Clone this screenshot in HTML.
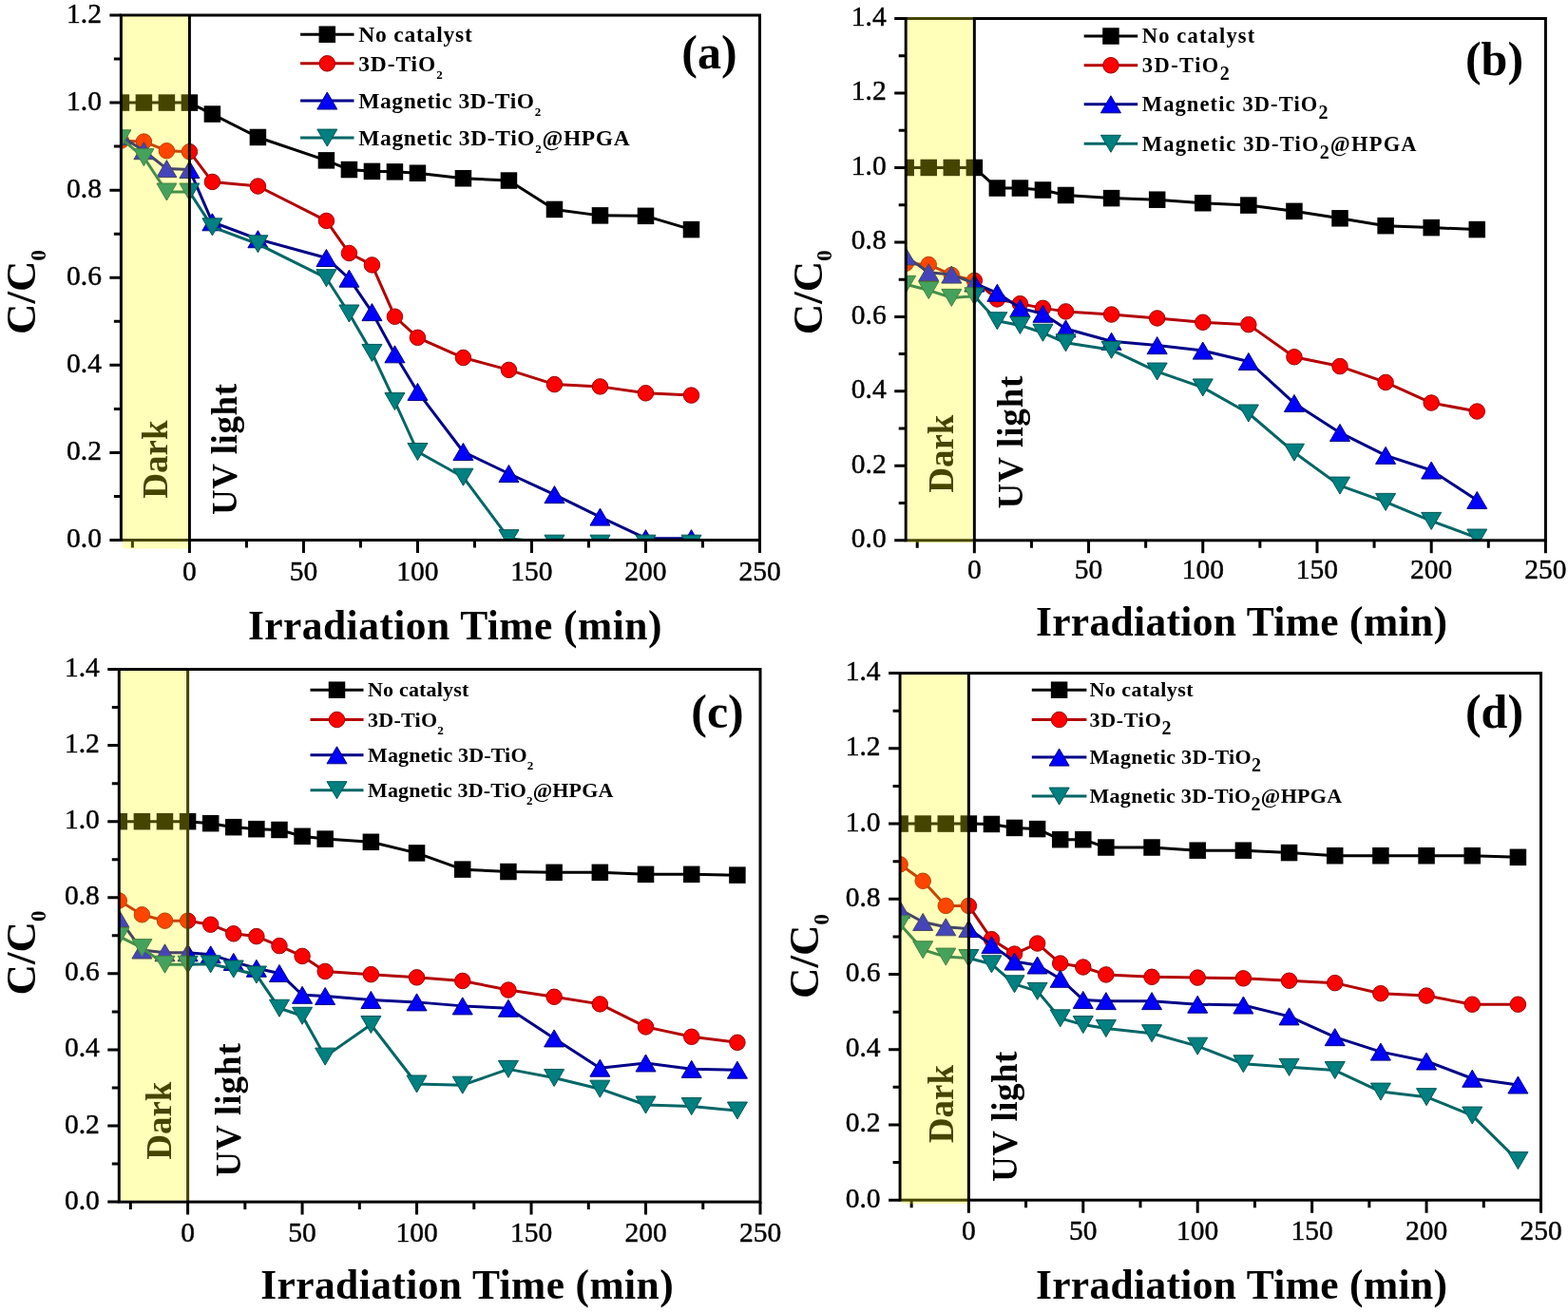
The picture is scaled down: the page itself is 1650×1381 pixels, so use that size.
<!DOCTYPE html>
<html><head><meta charset="utf-8"><title>Photocatalytic degradation C/C0 vs irradiation time</title>
<style>
html,body{margin:0;padding:0;background:#fff;}
svg{display:block;}
text{font-family:"Liberation Serif","Times New Roman",serif;}
.tl{font-size:29.5px;fill:#000;stroke:#000;stroke-width:0.45px;}
.xt{font-size:43.5px;font-weight:bold;fill:#000;}
.yt{font-size:45px;font-weight:bold;fill:#000;}
.ys{font-size:23px;}
.pl{font-size:50px;font-weight:bold;fill:#000;}
.lg{font-weight:bold;fill:#000;}
.dk{font-size:37px;font-weight:bold;fill:#000;}
.uv{font-size:37px;font-weight:bold;fill:#000;}
</style></head>
<body>
<svg width="1650" height="1381" viewBox="0 0 1650 1381">
<rect width="1650" height="1381" fill="#fff"/>
<clipPath id="clip_a"><rect x="127.4" y="16" width="672.1" height="552.5"/></clipPath>
<g clip-path="url(#clip_a)">
<polyline points="127.4,108.08 151.4,108.08 175.41,108.08 199.41,108.08 223.41,120.05 271.42,144.46 343.43,168.86 367.44,178.53 391.44,180.37 415.44,180.83 439.45,182.21 487.45,187.74 535.46,190.04 583.47,220.43 631.48,226.87 679.48,227.33 727.49,241.6" fill="none" stroke="#000000" stroke-width="3.0" stroke-linejoin="round"/>
<rect x="118.65" y="99.33" width="17.5" height="17.5" fill="#000000"/>
<rect x="142.65" y="99.33" width="17.5" height="17.5" fill="#000000"/>
<rect x="166.66" y="99.33" width="17.5" height="17.5" fill="#000000"/>
<rect x="190.66" y="99.33" width="17.5" height="17.5" fill="#000000"/>
<rect x="214.66" y="111.3" width="17.5" height="17.5" fill="#000000"/>
<rect x="262.67" y="135.71" width="17.5" height="17.5" fill="#000000"/>
<rect x="334.68" y="160.11" width="17.5" height="17.5" fill="#000000"/>
<rect x="358.69" y="169.78" width="17.5" height="17.5" fill="#000000"/>
<rect x="382.69" y="171.62" width="17.5" height="17.5" fill="#000000"/>
<rect x="406.69" y="172.08" width="17.5" height="17.5" fill="#000000"/>
<rect x="430.7" y="173.46" width="17.5" height="17.5" fill="#000000"/>
<rect x="478.7" y="178.99" width="17.5" height="17.5" fill="#000000"/>
<rect x="526.71" y="181.29" width="17.5" height="17.5" fill="#000000"/>
<rect x="574.72" y="211.68" width="17.5" height="17.5" fill="#000000"/>
<rect x="622.73" y="218.12" width="17.5" height="17.5" fill="#000000"/>
<rect x="670.73" y="218.58" width="17.5" height="17.5" fill="#000000"/>
<rect x="718.74" y="232.85" width="17.5" height="17.5" fill="#000000"/>
<polyline points="127.4,148.14 151.4,149.06 175.41,158.73 199.41,159.65 223.41,191.42 271.42,196.02 343.43,232.4 367.44,266.47 391.44,278.9 415.44,333.23 439.45,355.33 487.45,376.51 535.46,389.4 583.47,404.59 631.48,406.89 679.48,413.8 727.49,416.1" fill="none" stroke="#b40000" stroke-width="3.0" stroke-linejoin="round"/>
<circle cx="127.4" cy="148.14" r="8.25" fill="#ff0000" stroke="#9a0000" stroke-width="1"/>
<circle cx="151.4" cy="149.06" r="8.25" fill="#ff0000" stroke="#9a0000" stroke-width="1"/>
<circle cx="175.41" cy="158.73" r="8.25" fill="#ff0000" stroke="#9a0000" stroke-width="1"/>
<circle cx="199.41" cy="159.65" r="8.25" fill="#ff0000" stroke="#9a0000" stroke-width="1"/>
<circle cx="223.41" cy="191.42" r="8.25" fill="#ff0000" stroke="#9a0000" stroke-width="1"/>
<circle cx="271.42" cy="196.02" r="8.25" fill="#ff0000" stroke="#9a0000" stroke-width="1"/>
<circle cx="343.43" cy="232.4" r="8.25" fill="#ff0000" stroke="#9a0000" stroke-width="1"/>
<circle cx="367.44" cy="266.47" r="8.25" fill="#ff0000" stroke="#9a0000" stroke-width="1"/>
<circle cx="391.44" cy="278.9" r="8.25" fill="#ff0000" stroke="#9a0000" stroke-width="1"/>
<circle cx="415.44" cy="333.23" r="8.25" fill="#ff0000" stroke="#9a0000" stroke-width="1"/>
<circle cx="439.45" cy="355.33" r="8.25" fill="#ff0000" stroke="#9a0000" stroke-width="1"/>
<circle cx="487.45" cy="376.51" r="8.25" fill="#ff0000" stroke="#9a0000" stroke-width="1"/>
<circle cx="535.46" cy="389.4" r="8.25" fill="#ff0000" stroke="#9a0000" stroke-width="1"/>
<circle cx="583.47" cy="404.59" r="8.25" fill="#ff0000" stroke="#9a0000" stroke-width="1"/>
<circle cx="631.48" cy="406.89" r="8.25" fill="#ff0000" stroke="#9a0000" stroke-width="1"/>
<circle cx="679.48" cy="413.8" r="8.25" fill="#ff0000" stroke="#9a0000" stroke-width="1"/>
<circle cx="727.49" cy="416.1" r="8.25" fill="#ff0000" stroke="#9a0000" stroke-width="1"/>
<polyline points="127.4,143.54 151.4,158.73 175.41,177.61 199.41,178.53 223.41,233.78 271.42,251.73 343.43,271.53 367.44,293.17 391.44,328.62 415.44,372.82 439.45,412.42 487.45,475.5 535.46,498.52 583.47,520.62 631.48,544.1 679.48,566.66 727.49,566.66" fill="none" stroke="#000088" stroke-width="3.0" stroke-linejoin="round"/>
<polygon points="127.4,134.54 116.9,152.54 137.9,152.54" fill="#0000ff" stroke="#000080" stroke-width="1" stroke-linejoin="miter"/>
<polygon points="151.4,149.73 140.9,167.73 161.9,167.73" fill="#0000ff" stroke="#000080" stroke-width="1" stroke-linejoin="miter"/>
<polygon points="175.41,168.61 164.91,186.61 185.91,186.61" fill="#0000ff" stroke="#000080" stroke-width="1" stroke-linejoin="miter"/>
<polygon points="199.41,169.53 188.91,187.53 209.91,187.53" fill="#0000ff" stroke="#000080" stroke-width="1" stroke-linejoin="miter"/>
<polygon points="223.41,224.78 212.91,242.78 233.91,242.78" fill="#0000ff" stroke="#000080" stroke-width="1" stroke-linejoin="miter"/>
<polygon points="271.42,242.73 260.92,260.73 281.92,260.73" fill="#0000ff" stroke="#000080" stroke-width="1" stroke-linejoin="miter"/>
<polygon points="343.43,262.53 332.93,280.53 353.93,280.53" fill="#0000ff" stroke="#000080" stroke-width="1" stroke-linejoin="miter"/>
<polygon points="367.44,284.17 356.94,302.17 377.94,302.17" fill="#0000ff" stroke="#000080" stroke-width="1" stroke-linejoin="miter"/>
<polygon points="391.44,319.62 380.94,337.62 401.94,337.62" fill="#0000ff" stroke="#000080" stroke-width="1" stroke-linejoin="miter"/>
<polygon points="415.44,363.82 404.94,381.82 425.94,381.82" fill="#0000ff" stroke="#000080" stroke-width="1" stroke-linejoin="miter"/>
<polygon points="439.45,403.42 428.95,421.42 449.95,421.42" fill="#0000ff" stroke="#000080" stroke-width="1" stroke-linejoin="miter"/>
<polygon points="487.45,466.5 476.95,484.5 497.95,484.5" fill="#0000ff" stroke="#000080" stroke-width="1" stroke-linejoin="miter"/>
<polygon points="535.46,489.52 524.96,507.52 545.96,507.52" fill="#0000ff" stroke="#000080" stroke-width="1" stroke-linejoin="miter"/>
<polygon points="583.47,511.62 572.97,529.62 593.97,529.62" fill="#0000ff" stroke="#000080" stroke-width="1" stroke-linejoin="miter"/>
<polygon points="631.48,535.1 620.98,553.1 641.98,553.1" fill="#0000ff" stroke="#000080" stroke-width="1" stroke-linejoin="miter"/>
<polygon points="679.48,557.66 668.98,575.66 689.98,575.66" fill="#0000ff" stroke="#000080" stroke-width="1" stroke-linejoin="miter"/>
<polygon points="727.49,557.66 716.99,575.66 737.99,575.66" fill="#0000ff" stroke="#000080" stroke-width="1" stroke-linejoin="miter"/>
<polyline points="127.4,145.84 151.4,165.64 175.41,202.01 199.41,202.01 223.41,238.84 271.42,256.8 343.43,292.71 367.44,330 391.44,371.44 415.44,422.55 439.45,475.5 487.45,502.2 535.46,566.66 583.47,572.18 631.48,572.18 679.48,572.18 727.49,572.18" fill="none" stroke="#006666" stroke-width="3.0" stroke-linejoin="round"/>
<polygon points="127.4,154.84 116.9,136.84 137.9,136.84" fill="#008080" stroke="#005555" stroke-width="1" stroke-linejoin="miter"/>
<polygon points="151.4,174.64 140.9,156.64 161.9,156.64" fill="#008080" stroke="#005555" stroke-width="1" stroke-linejoin="miter"/>
<polygon points="175.41,211.01 164.91,193.01 185.91,193.01" fill="#008080" stroke="#005555" stroke-width="1" stroke-linejoin="miter"/>
<polygon points="199.41,211.01 188.91,193.01 209.91,193.01" fill="#008080" stroke="#005555" stroke-width="1" stroke-linejoin="miter"/>
<polygon points="223.41,247.84 212.91,229.84 233.91,229.84" fill="#008080" stroke="#005555" stroke-width="1" stroke-linejoin="miter"/>
<polygon points="271.42,265.8 260.92,247.8 281.92,247.8" fill="#008080" stroke="#005555" stroke-width="1" stroke-linejoin="miter"/>
<polygon points="343.43,301.71 332.93,283.71 353.93,283.71" fill="#008080" stroke="#005555" stroke-width="1" stroke-linejoin="miter"/>
<polygon points="367.44,339 356.94,321 377.94,321" fill="#008080" stroke="#005555" stroke-width="1" stroke-linejoin="miter"/>
<polygon points="391.44,380.44 380.94,362.44 401.94,362.44" fill="#008080" stroke="#005555" stroke-width="1" stroke-linejoin="miter"/>
<polygon points="415.44,431.55 404.94,413.55 425.94,413.55" fill="#008080" stroke="#005555" stroke-width="1" stroke-linejoin="miter"/>
<polygon points="439.45,484.5 428.95,466.5 449.95,466.5" fill="#008080" stroke="#005555" stroke-width="1" stroke-linejoin="miter"/>
<polygon points="487.45,511.2 476.95,493.2 497.95,493.2" fill="#008080" stroke="#005555" stroke-width="1" stroke-linejoin="miter"/>
<polygon points="535.46,575.66 524.96,557.66 545.96,557.66" fill="#008080" stroke="#005555" stroke-width="1" stroke-linejoin="miter"/>
<polygon points="583.47,581.18 572.97,563.18 593.97,563.18" fill="#008080" stroke="#005555" stroke-width="1" stroke-linejoin="miter"/>
<polygon points="631.48,581.18 620.98,563.18 641.98,563.18" fill="#008080" stroke="#005555" stroke-width="1" stroke-linejoin="miter"/>
<polygon points="679.48,581.18 668.98,563.18 689.98,563.18" fill="#008080" stroke="#005555" stroke-width="1" stroke-linejoin="miter"/>
<polygon points="727.49,581.18 716.99,563.18 737.99,563.18" fill="#008080" stroke="#005555" stroke-width="1" stroke-linejoin="miter"/>
</g>
<text transform="translate(176.3,524.7) rotate(-90)" class="dk">Dark</text>
<line x1="199.41" y1="16" x2="199.41" y2="568.5" stroke="#000" stroke-width="3.0"/>
<rect x="127.4" y="16" width="672.1" height="552.5" fill="none" stroke="#000" stroke-width="3.0"/>
<path d="M115.4 568.5H127.4M119.9 522.46H127.4M115.4 476.42H127.4M119.9 430.38H127.4M115.4 384.33H127.4M119.9 338.29H127.4M115.4 292.25H127.4M119.9 246.21H127.4M115.4 200.17H127.4M119.9 154.12H127.4M115.4 108.08H127.4M119.9 62.04H127.4M115.4 16H127.4M139.4 568.5V576.5M199.41 568.5V582M259.42 568.5V576.5M319.43 568.5V582M379.44 568.5V576.5M439.45 568.5V582M499.46 568.5V576.5M559.46 568.5V582M619.47 568.5V576.5M679.48 568.5V582M739.49 568.5V576.5M799.5 568.5V582" stroke="#000" stroke-width="3.0" fill="none"/>
<text x="106.9" y="576" class="tl" text-anchor="end">0.0</text>
<text x="106.9" y="483.92" class="tl" text-anchor="end">0.2</text>
<text x="106.9" y="391.83" class="tl" text-anchor="end">0.4</text>
<text x="106.9" y="299.75" class="tl" text-anchor="end">0.6</text>
<text x="106.9" y="207.67" class="tl" text-anchor="end">0.8</text>
<text x="106.9" y="115.58" class="tl" text-anchor="end">1.0</text>
<text x="106.9" y="23.5" class="tl" text-anchor="end">1.2</text>
<text x="199.41" y="610.7" class="tl" text-anchor="middle">0</text>
<text x="319.43" y="610.7" class="tl" text-anchor="middle">50</text>
<text x="439.45" y="610.7" class="tl" text-anchor="middle">100</text>
<text x="559.46" y="610.7" class="tl" text-anchor="middle">150</text>
<text x="679.48" y="610.7" class="tl" text-anchor="middle">200</text>
<text x="799.5" y="610.7" class="tl" text-anchor="middle">250</text>
<rect x="128.9" y="17.5" width="69.01" height="560" fill="#ffff00" fill-opacity="0.27"/>
<text transform="translate(248.6,542) rotate(-90)" class="uv" textLength="138" lengthAdjust="spacing">UV light</text>
<text x="260.9" y="672.6" class="xt" textLength="435.5" lengthAdjust="spacing">Irradiation Time (min)</text>
<text transform="translate(37.4,352) rotate(-90)" class="yt">C/C<tspan class="ys" dy="10.5">0</tspan></text>
<text x="746.4" y="71.5" class="pl" text-anchor="middle">(a)</text>
<line x1="316.1" y1="36.2" x2="372.5" y2="36.2" stroke="#000000" stroke-width="3.0"/>
<rect x="335.55" y="27.45" width="17.5" height="17.5" fill="#000000"/>
<text x="377.2" y="43.96" class="lg" font-size="23.5" textLength="119.6" lengthAdjust="spacing">No catalyst</text>
<line x1="316.1" y1="66.8" x2="372.5" y2="66.8" stroke="#b40000" stroke-width="3.0"/>
<circle cx="344.3" cy="66.8" r="8.25" fill="#ff0000" stroke="#9a0000" stroke-width="1"/>
<text x="377.2" y="74.55" class="lg" font-size="23.5" textLength="88.5" lengthAdjust="spacing">3D-TiO<tspan dy="8" font-size="13">2</tspan></text>
<line x1="316.1" y1="106" x2="372.5" y2="106" stroke="#000088" stroke-width="3.0"/>
<polygon points="344.3,97 333.8,115 354.8,115" fill="#0000ff" stroke="#000080" stroke-width="1" stroke-linejoin="miter"/>
<text x="377.2" y="113.75" class="lg" font-size="23.5" textLength="192" lengthAdjust="spacing">Magnetic 3D-TiO<tspan dy="8" font-size="13">2</tspan></text>
<line x1="316.1" y1="145.1" x2="372.5" y2="145.1" stroke="#006666" stroke-width="3.0"/>
<polygon points="344.3,154.1 333.8,136.1 354.8,136.1" fill="#008080" stroke="#005555" stroke-width="1" stroke-linejoin="miter"/>
<text x="377.2" y="152.85" class="lg" font-size="23.5" textLength="285.5" lengthAdjust="spacing">Magnetic 3D-TiO<tspan dy="8" font-size="13">2</tspan><tspan dy="-8">@HPGA</tspan></text>
<clipPath id="clip_b"><rect x="953.2" y="19.5" width="673.2" height="549.3"/></clipPath>
<g clip-path="url(#clip_b)">
<polyline points="953.2,176.44 977.24,176.44 1001.29,176.44 1025.33,176.44 1049.37,198.02 1073.41,198.02 1097.46,199.98 1121.5,205.48 1169.59,208.62 1217.67,210.19 1265.76,213.72 1313.84,216.07 1361.93,222.35 1410.01,229.8 1458.1,237.65 1506.19,239.61 1554.27,241.57" fill="none" stroke="#000000" stroke-width="3.0" stroke-linejoin="round"/>
<rect x="944.45" y="167.69" width="17.5" height="17.5" fill="#000000"/>
<rect x="968.49" y="167.69" width="17.5" height="17.5" fill="#000000"/>
<rect x="992.54" y="167.69" width="17.5" height="17.5" fill="#000000"/>
<rect x="1016.58" y="167.69" width="17.5" height="17.5" fill="#000000"/>
<rect x="1040.62" y="189.27" width="17.5" height="17.5" fill="#000000"/>
<rect x="1064.66" y="189.27" width="17.5" height="17.5" fill="#000000"/>
<rect x="1088.71" y="191.23" width="17.5" height="17.5" fill="#000000"/>
<rect x="1112.75" y="196.73" width="17.5" height="17.5" fill="#000000"/>
<rect x="1160.84" y="199.87" width="17.5" height="17.5" fill="#000000"/>
<rect x="1208.92" y="201.44" width="17.5" height="17.5" fill="#000000"/>
<rect x="1257.01" y="204.97" width="17.5" height="17.5" fill="#000000"/>
<rect x="1305.09" y="207.32" width="17.5" height="17.5" fill="#000000"/>
<rect x="1353.18" y="213.6" width="17.5" height="17.5" fill="#000000"/>
<rect x="1401.26" y="221.05" width="17.5" height="17.5" fill="#000000"/>
<rect x="1449.35" y="228.9" width="17.5" height="17.5" fill="#000000"/>
<rect x="1497.44" y="230.86" width="17.5" height="17.5" fill="#000000"/>
<rect x="1545.52" y="232.82" width="17.5" height="17.5" fill="#000000"/>
<polyline points="953.2,277.28 977.24,278.46 1001.29,289.44 1025.33,295.33 1049.37,314.94 1073.41,319.65 1097.46,324.36 1121.5,327.89 1169.59,331.03 1217.67,334.96 1265.76,339.27 1313.84,341.63 1361.93,375.76 1410.01,385.57 1458.1,402.44 1506.19,424.02 1554.27,433.04" fill="none" stroke="#b40000" stroke-width="3.0" stroke-linejoin="round"/>
<circle cx="953.2" cy="277.28" r="8.25" fill="#ff0000" stroke="#9a0000" stroke-width="1"/>
<circle cx="977.24" cy="278.46" r="8.25" fill="#ff0000" stroke="#9a0000" stroke-width="1"/>
<circle cx="1001.29" cy="289.44" r="8.25" fill="#ff0000" stroke="#9a0000" stroke-width="1"/>
<circle cx="1025.33" cy="295.33" r="8.25" fill="#ff0000" stroke="#9a0000" stroke-width="1"/>
<circle cx="1049.37" cy="314.94" r="8.25" fill="#ff0000" stroke="#9a0000" stroke-width="1"/>
<circle cx="1073.41" cy="319.65" r="8.25" fill="#ff0000" stroke="#9a0000" stroke-width="1"/>
<circle cx="1097.46" cy="324.36" r="8.25" fill="#ff0000" stroke="#9a0000" stroke-width="1"/>
<circle cx="1121.5" cy="327.89" r="8.25" fill="#ff0000" stroke="#9a0000" stroke-width="1"/>
<circle cx="1169.59" cy="331.03" r="8.25" fill="#ff0000" stroke="#9a0000" stroke-width="1"/>
<circle cx="1217.67" cy="334.96" r="8.25" fill="#ff0000" stroke="#9a0000" stroke-width="1"/>
<circle cx="1265.76" cy="339.27" r="8.25" fill="#ff0000" stroke="#9a0000" stroke-width="1"/>
<circle cx="1313.84" cy="341.63" r="8.25" fill="#ff0000" stroke="#9a0000" stroke-width="1"/>
<circle cx="1361.93" cy="375.76" r="8.25" fill="#ff0000" stroke="#9a0000" stroke-width="1"/>
<circle cx="1410.01" cy="385.57" r="8.25" fill="#ff0000" stroke="#9a0000" stroke-width="1"/>
<circle cx="1458.1" cy="402.44" r="8.25" fill="#ff0000" stroke="#9a0000" stroke-width="1"/>
<circle cx="1506.19" cy="424.02" r="8.25" fill="#ff0000" stroke="#9a0000" stroke-width="1"/>
<circle cx="1554.27" cy="433.04" r="8.25" fill="#ff0000" stroke="#9a0000" stroke-width="1"/>
<polyline points="953.2,269.82 977.24,286.7 1001.29,289.05 1025.33,298.07 1049.37,308.27 1073.41,324.36 1097.46,330.25 1121.5,345.94 1169.59,359.28 1217.67,363.6 1265.76,369.09 1313.84,380.47 1361.93,424.41 1410.01,455.41 1458.1,479.34 1506.19,495.04 1554.27,526.43" fill="none" stroke="#000088" stroke-width="3.0" stroke-linejoin="round"/>
<polygon points="953.2,260.82 942.7,278.82 963.7,278.82" fill="#0000ff" stroke="#000080" stroke-width="1" stroke-linejoin="miter"/>
<polygon points="977.24,277.7 966.74,295.7 987.74,295.7" fill="#0000ff" stroke="#000080" stroke-width="1" stroke-linejoin="miter"/>
<polygon points="1001.29,280.05 990.79,298.05 1011.79,298.05" fill="#0000ff" stroke="#000080" stroke-width="1" stroke-linejoin="miter"/>
<polygon points="1025.33,289.07 1014.83,307.07 1035.83,307.07" fill="#0000ff" stroke="#000080" stroke-width="1" stroke-linejoin="miter"/>
<polygon points="1049.37,299.27 1038.87,317.27 1059.87,317.27" fill="#0000ff" stroke="#000080" stroke-width="1" stroke-linejoin="miter"/>
<polygon points="1073.41,315.36 1062.91,333.36 1083.91,333.36" fill="#0000ff" stroke="#000080" stroke-width="1" stroke-linejoin="miter"/>
<polygon points="1097.46,321.25 1086.96,339.25 1107.96,339.25" fill="#0000ff" stroke="#000080" stroke-width="1" stroke-linejoin="miter"/>
<polygon points="1121.5,336.94 1111,354.94 1132,354.94" fill="#0000ff" stroke="#000080" stroke-width="1" stroke-linejoin="miter"/>
<polygon points="1169.59,350.28 1159.09,368.28 1180.09,368.28" fill="#0000ff" stroke="#000080" stroke-width="1" stroke-linejoin="miter"/>
<polygon points="1217.67,354.6 1207.17,372.6 1228.17,372.6" fill="#0000ff" stroke="#000080" stroke-width="1" stroke-linejoin="miter"/>
<polygon points="1265.76,360.09 1255.26,378.09 1276.26,378.09" fill="#0000ff" stroke="#000080" stroke-width="1" stroke-linejoin="miter"/>
<polygon points="1313.84,371.47 1303.34,389.47 1324.34,389.47" fill="#0000ff" stroke="#000080" stroke-width="1" stroke-linejoin="miter"/>
<polygon points="1361.93,415.41 1351.43,433.41 1372.43,433.41" fill="#0000ff" stroke="#000080" stroke-width="1" stroke-linejoin="miter"/>
<polygon points="1410.01,446.41 1399.51,464.41 1420.51,464.41" fill="#0000ff" stroke="#000080" stroke-width="1" stroke-linejoin="miter"/>
<polygon points="1458.1,470.34 1447.6,488.34 1468.6,488.34" fill="#0000ff" stroke="#000080" stroke-width="1" stroke-linejoin="miter"/>
<polygon points="1506.19,486.04 1495.69,504.04 1516.69,504.04" fill="#0000ff" stroke="#000080" stroke-width="1" stroke-linejoin="miter"/>
<polygon points="1554.27,517.43 1543.77,535.43 1564.77,535.43" fill="#0000ff" stroke="#000080" stroke-width="1" stroke-linejoin="miter"/>
<polyline points="953.2,299.25 977.24,305.53 1001.29,313.38 1025.33,311.81 1049.37,337.7 1073.41,342.41 1097.46,350.26 1121.5,360.85 1169.59,368.31 1217.67,391.06 1265.76,407.93 1313.84,435.01 1361.93,476.2 1410.01,511.12 1458.1,528.39 1506.19,548.4 1554.27,566.05" fill="none" stroke="#006666" stroke-width="3.0" stroke-linejoin="round"/>
<polygon points="953.2,308.25 942.7,290.25 963.7,290.25" fill="#008080" stroke="#005555" stroke-width="1" stroke-linejoin="miter"/>
<polygon points="977.24,314.53 966.74,296.53 987.74,296.53" fill="#008080" stroke="#005555" stroke-width="1" stroke-linejoin="miter"/>
<polygon points="1001.29,322.38 990.79,304.38 1011.79,304.38" fill="#008080" stroke="#005555" stroke-width="1" stroke-linejoin="miter"/>
<polygon points="1025.33,320.81 1014.83,302.81 1035.83,302.81" fill="#008080" stroke="#005555" stroke-width="1" stroke-linejoin="miter"/>
<polygon points="1049.37,346.7 1038.87,328.7 1059.87,328.7" fill="#008080" stroke="#005555" stroke-width="1" stroke-linejoin="miter"/>
<polygon points="1073.41,351.41 1062.91,333.41 1083.91,333.41" fill="#008080" stroke="#005555" stroke-width="1" stroke-linejoin="miter"/>
<polygon points="1097.46,359.26 1086.96,341.26 1107.96,341.26" fill="#008080" stroke="#005555" stroke-width="1" stroke-linejoin="miter"/>
<polygon points="1121.5,369.85 1111,351.85 1132,351.85" fill="#008080" stroke="#005555" stroke-width="1" stroke-linejoin="miter"/>
<polygon points="1169.59,377.31 1159.09,359.31 1180.09,359.31" fill="#008080" stroke="#005555" stroke-width="1" stroke-linejoin="miter"/>
<polygon points="1217.67,400.06 1207.17,382.06 1228.17,382.06" fill="#008080" stroke="#005555" stroke-width="1" stroke-linejoin="miter"/>
<polygon points="1265.76,416.93 1255.26,398.93 1276.26,398.93" fill="#008080" stroke="#005555" stroke-width="1" stroke-linejoin="miter"/>
<polygon points="1313.84,444.01 1303.34,426.01 1324.34,426.01" fill="#008080" stroke="#005555" stroke-width="1" stroke-linejoin="miter"/>
<polygon points="1361.93,485.2 1351.43,467.2 1372.43,467.2" fill="#008080" stroke="#005555" stroke-width="1" stroke-linejoin="miter"/>
<polygon points="1410.01,520.12 1399.51,502.12 1420.51,502.12" fill="#008080" stroke="#005555" stroke-width="1" stroke-linejoin="miter"/>
<polygon points="1458.1,537.39 1447.6,519.39 1468.6,519.39" fill="#008080" stroke="#005555" stroke-width="1" stroke-linejoin="miter"/>
<polygon points="1506.19,557.4 1495.69,539.4 1516.69,539.4" fill="#008080" stroke="#005555" stroke-width="1" stroke-linejoin="miter"/>
<polygon points="1554.27,575.05 1543.77,557.05 1564.77,557.05" fill="#008080" stroke="#005555" stroke-width="1" stroke-linejoin="miter"/>
</g>
<text transform="translate(1002.6,518.8) rotate(-90)" class="dk">Dark</text>
<line x1="1025.33" y1="19.5" x2="1025.33" y2="568.8" stroke="#000" stroke-width="3.0"/>
<rect x="953.2" y="19.5" width="673.2" height="549.3" fill="none" stroke="#000" stroke-width="3.0"/>
<path d="M941.2 568.8H953.2M945.7 529.56H953.2M941.2 490.33H953.2M945.7 451.09H953.2M941.2 411.86H953.2M945.7 372.62H953.2M941.2 333.39H953.2M945.7 294.15H953.2M941.2 254.91H953.2M945.7 215.68H953.2M941.2 176.44H953.2M945.7 137.21H953.2M941.2 97.97H953.2M945.7 58.74H953.2M941.2 19.5H953.2M965.22 568.8V576.8M1025.33 568.8V582.3M1085.44 568.8V576.8M1145.54 568.8V582.3M1205.65 568.8V576.8M1265.76 568.8V582.3M1325.86 568.8V576.8M1385.97 568.8V582.3M1446.08 568.8V576.8M1506.19 568.8V582.3M1566.29 568.8V576.8M1626.4 568.8V582.3" stroke="#000" stroke-width="3.0" fill="none"/>
<text x="932.7" y="576.3" class="tl" text-anchor="end">0.0</text>
<text x="932.7" y="497.83" class="tl" text-anchor="end">0.2</text>
<text x="932.7" y="419.36" class="tl" text-anchor="end">0.4</text>
<text x="932.7" y="340.89" class="tl" text-anchor="end">0.6</text>
<text x="932.7" y="262.41" class="tl" text-anchor="end">0.8</text>
<text x="932.7" y="183.94" class="tl" text-anchor="end">1.0</text>
<text x="932.7" y="105.47" class="tl" text-anchor="end">1.2</text>
<text x="932.7" y="27" class="tl" text-anchor="end">1.4</text>
<text x="1025.33" y="608.8" class="tl" text-anchor="middle">0</text>
<text x="1145.54" y="608.8" class="tl" text-anchor="middle">50</text>
<text x="1265.76" y="608.8" class="tl" text-anchor="middle">100</text>
<text x="1385.97" y="608.8" class="tl" text-anchor="middle">150</text>
<text x="1506.19" y="608.8" class="tl" text-anchor="middle">200</text>
<text x="1626.4" y="608.8" class="tl" text-anchor="middle">250</text>
<rect x="954.7" y="18" width="69.13" height="553.3" fill="#ffff00" fill-opacity="0.27"/>
<text transform="translate(1075.6,535.4) rotate(-90)" class="uv" textLength="139.8" lengthAdjust="spacing">UV light</text>
<text x="1089.9" y="669.2" class="xt" textLength="433" lengthAdjust="spacing">Irradiation Time (min)</text>
<text transform="translate(864.6,352.2) rotate(-90)" class="yt">C/C<tspan class="ys" dy="10.5">0</tspan></text>
<text x="1572.5" y="79" class="pl" text-anchor="middle">(b)</text>
<line x1="1140.7" y1="38" x2="1197.2" y2="38" stroke="#000000" stroke-width="3.0"/>
<rect x="1160.2" y="29.25" width="17.5" height="17.5" fill="#000000"/>
<text x="1201.8" y="45.42" class="lg" font-size="22.5" textLength="118.4" lengthAdjust="spacing">No catalyst</text>
<line x1="1140.7" y1="68.8" x2="1197.2" y2="68.8" stroke="#b40000" stroke-width="3.0"/>
<circle cx="1168.95" cy="68.8" r="8.25" fill="#ff0000" stroke="#9a0000" stroke-width="1"/>
<text x="1201.8" y="76.22" class="lg" font-size="22.5" textLength="92" lengthAdjust="spacing">3D-TiO<tspan dy="8" font-size="20">2</tspan></text>
<line x1="1140.7" y1="109.8" x2="1197.2" y2="109.8" stroke="#000088" stroke-width="3.0"/>
<polygon points="1168.95,100.8 1158.45,118.8 1179.45,118.8" fill="#0000ff" stroke="#000080" stroke-width="1" stroke-linejoin="miter"/>
<text x="1201.8" y="117.22" class="lg" font-size="22.5" textLength="195.6" lengthAdjust="spacing">Magnetic 3D-TiO<tspan dy="8" font-size="20">2</tspan></text>
<line x1="1140.7" y1="151.3" x2="1197.2" y2="151.3" stroke="#006666" stroke-width="3.0"/>
<polygon points="1168.95,160.3 1158.45,142.3 1179.45,142.3" fill="#008080" stroke="#005555" stroke-width="1" stroke-linejoin="miter"/>
<text x="1201.8" y="158.73" class="lg" font-size="22.5" textLength="288.8" lengthAdjust="spacing">Magnetic 3D-TiO<tspan dy="8" font-size="20">2</tspan><tspan dy="-8">@HPGA</tspan></text>
<clipPath id="clip_c"><rect x="125.3" y="704.5" width="674.7" height="560.6"/></clipPath>
<g clip-path="url(#clip_c)">
<polyline points="125.3,864.67 149.4,864.67 173.49,864.67 197.59,864.67 221.69,866.67 245.78,870.68 269.88,872.68 293.98,873.48 318.07,880.29 342.17,883.09 390.36,886.29 438.55,897.91 486.75,915.13 534.94,917.53 583.13,918.33 631.33,918.33 679.52,920.33 727.71,920.33 775.9,921.13" fill="none" stroke="#000000" stroke-width="3.0" stroke-linejoin="round"/>
<rect x="116.55" y="855.92" width="17.5" height="17.5" fill="#000000"/>
<rect x="140.65" y="855.92" width="17.5" height="17.5" fill="#000000"/>
<rect x="164.74" y="855.92" width="17.5" height="17.5" fill="#000000"/>
<rect x="188.84" y="855.92" width="17.5" height="17.5" fill="#000000"/>
<rect x="212.94" y="857.92" width="17.5" height="17.5" fill="#000000"/>
<rect x="237.03" y="861.93" width="17.5" height="17.5" fill="#000000"/>
<rect x="261.13" y="863.93" width="17.5" height="17.5" fill="#000000"/>
<rect x="285.23" y="864.73" width="17.5" height="17.5" fill="#000000"/>
<rect x="309.32" y="871.54" width="17.5" height="17.5" fill="#000000"/>
<rect x="333.42" y="874.34" width="17.5" height="17.5" fill="#000000"/>
<rect x="381.61" y="877.54" width="17.5" height="17.5" fill="#000000"/>
<rect x="429.8" y="889.16" width="17.5" height="17.5" fill="#000000"/>
<rect x="478" y="906.38" width="17.5" height="17.5" fill="#000000"/>
<rect x="526.19" y="908.78" width="17.5" height="17.5" fill="#000000"/>
<rect x="574.38" y="909.58" width="17.5" height="17.5" fill="#000000"/>
<rect x="622.58" y="909.58" width="17.5" height="17.5" fill="#000000"/>
<rect x="670.77" y="911.58" width="17.5" height="17.5" fill="#000000"/>
<rect x="718.96" y="911.58" width="17.5" height="17.5" fill="#000000"/>
<rect x="767.15" y="912.38" width="17.5" height="17.5" fill="#000000"/>
<polyline points="125.3,947.96 149.4,962.78 173.49,969.18 197.59,969.18 221.69,973.19 245.78,982.8 269.88,985.6 293.98,995.61 318.07,1006.42 342.17,1022.44 390.36,1025.64 438.55,1028.85 486.75,1032.45 534.94,1042.06 583.13,1049.27 631.33,1056.88 679.52,1080.9 727.71,1091.31 775.9,1097.32" fill="none" stroke="#b40000" stroke-width="3.0" stroke-linejoin="round"/>
<circle cx="125.3" cy="947.96" r="8.25" fill="#ff0000" stroke="#9a0000" stroke-width="1"/>
<circle cx="149.4" cy="962.78" r="8.25" fill="#ff0000" stroke="#9a0000" stroke-width="1"/>
<circle cx="173.49" cy="969.18" r="8.25" fill="#ff0000" stroke="#9a0000" stroke-width="1"/>
<circle cx="197.59" cy="969.18" r="8.25" fill="#ff0000" stroke="#9a0000" stroke-width="1"/>
<circle cx="221.69" cy="973.19" r="8.25" fill="#ff0000" stroke="#9a0000" stroke-width="1"/>
<circle cx="245.78" cy="982.8" r="8.25" fill="#ff0000" stroke="#9a0000" stroke-width="1"/>
<circle cx="269.88" cy="985.6" r="8.25" fill="#ff0000" stroke="#9a0000" stroke-width="1"/>
<circle cx="293.98" cy="995.61" r="8.25" fill="#ff0000" stroke="#9a0000" stroke-width="1"/>
<circle cx="318.07" cy="1006.42" r="8.25" fill="#ff0000" stroke="#9a0000" stroke-width="1"/>
<circle cx="342.17" cy="1022.44" r="8.25" fill="#ff0000" stroke="#9a0000" stroke-width="1"/>
<circle cx="390.36" cy="1025.64" r="8.25" fill="#ff0000" stroke="#9a0000" stroke-width="1"/>
<circle cx="438.55" cy="1028.85" r="8.25" fill="#ff0000" stroke="#9a0000" stroke-width="1"/>
<circle cx="486.75" cy="1032.45" r="8.25" fill="#ff0000" stroke="#9a0000" stroke-width="1"/>
<circle cx="534.94" cy="1042.06" r="8.25" fill="#ff0000" stroke="#9a0000" stroke-width="1"/>
<circle cx="583.13" cy="1049.27" r="8.25" fill="#ff0000" stroke="#9a0000" stroke-width="1"/>
<circle cx="631.33" cy="1056.88" r="8.25" fill="#ff0000" stroke="#9a0000" stroke-width="1"/>
<circle cx="679.52" cy="1080.9" r="8.25" fill="#ff0000" stroke="#9a0000" stroke-width="1"/>
<circle cx="727.71" cy="1091.31" r="8.25" fill="#ff0000" stroke="#9a0000" stroke-width="1"/>
<circle cx="775.9" cy="1097.32" r="8.25" fill="#ff0000" stroke="#9a0000" stroke-width="1"/>
<polyline points="125.3,966.78 149.4,1000.02 173.49,1002.82 197.59,1002.82 221.69,1004.82 245.78,1012.43 269.88,1019.24 293.98,1024.44 318.07,1047.27 342.17,1048.47 390.36,1052.47 438.55,1054.88 486.75,1058.88 534.94,1061.28 583.13,1092.92 631.33,1124.15 679.52,1118.94 727.71,1125.35 775.9,1126.15" fill="none" stroke="#000088" stroke-width="3.0" stroke-linejoin="round"/>
<polygon points="125.3,957.78 114.8,975.78 135.8,975.78" fill="#0000ff" stroke="#000080" stroke-width="1" stroke-linejoin="miter"/>
<polygon points="149.4,991.02 138.9,1009.02 159.9,1009.02" fill="#0000ff" stroke="#000080" stroke-width="1" stroke-linejoin="miter"/>
<polygon points="173.49,993.82 162.99,1011.82 183.99,1011.82" fill="#0000ff" stroke="#000080" stroke-width="1" stroke-linejoin="miter"/>
<polygon points="197.59,993.82 187.09,1011.82 208.09,1011.82" fill="#0000ff" stroke="#000080" stroke-width="1" stroke-linejoin="miter"/>
<polygon points="221.69,995.82 211.19,1013.82 232.19,1013.82" fill="#0000ff" stroke="#000080" stroke-width="1" stroke-linejoin="miter"/>
<polygon points="245.78,1003.43 235.28,1021.43 256.28,1021.43" fill="#0000ff" stroke="#000080" stroke-width="1" stroke-linejoin="miter"/>
<polygon points="269.88,1010.24 259.38,1028.24 280.38,1028.24" fill="#0000ff" stroke="#000080" stroke-width="1" stroke-linejoin="miter"/>
<polygon points="293.98,1015.44 283.48,1033.44 304.48,1033.44" fill="#0000ff" stroke="#000080" stroke-width="1" stroke-linejoin="miter"/>
<polygon points="318.07,1038.27 307.57,1056.27 328.57,1056.27" fill="#0000ff" stroke="#000080" stroke-width="1" stroke-linejoin="miter"/>
<polygon points="342.17,1039.47 331.67,1057.47 352.67,1057.47" fill="#0000ff" stroke="#000080" stroke-width="1" stroke-linejoin="miter"/>
<polygon points="390.36,1043.47 379.86,1061.47 400.86,1061.47" fill="#0000ff" stroke="#000080" stroke-width="1" stroke-linejoin="miter"/>
<polygon points="438.55,1045.88 428.05,1063.88 449.05,1063.88" fill="#0000ff" stroke="#000080" stroke-width="1" stroke-linejoin="miter"/>
<polygon points="486.75,1049.88 476.25,1067.88 497.25,1067.88" fill="#0000ff" stroke="#000080" stroke-width="1" stroke-linejoin="miter"/>
<polygon points="534.94,1052.28 524.44,1070.28 545.44,1070.28" fill="#0000ff" stroke="#000080" stroke-width="1" stroke-linejoin="miter"/>
<polygon points="583.13,1083.92 572.63,1101.92 593.63,1101.92" fill="#0000ff" stroke="#000080" stroke-width="1" stroke-linejoin="miter"/>
<polygon points="631.33,1115.15 620.83,1133.15 641.83,1133.15" fill="#0000ff" stroke="#000080" stroke-width="1" stroke-linejoin="miter"/>
<polygon points="679.52,1109.94 669.02,1127.94 690.02,1127.94" fill="#0000ff" stroke="#000080" stroke-width="1" stroke-linejoin="miter"/>
<polygon points="727.71,1116.35 717.21,1134.35 738.21,1134.35" fill="#0000ff" stroke="#000080" stroke-width="1" stroke-linejoin="miter"/>
<polygon points="775.9,1117.15 765.4,1135.15 786.4,1135.15" fill="#0000ff" stroke="#000080" stroke-width="1" stroke-linejoin="miter"/>
<polyline points="125.3,985.6 149.4,997.61 173.49,1015.23 197.59,1015.23 221.69,1014.83 245.78,1020.04 269.88,1026.04 293.98,1061.28 318.07,1069.29 342.17,1112.14 390.36,1078.5 438.55,1140.97 486.75,1142.17 534.94,1125.35 583.13,1134.56 631.33,1146.17 679.52,1162.99 727.71,1164.59 775.9,1169" fill="none" stroke="#006666" stroke-width="3.0" stroke-linejoin="round"/>
<polygon points="125.3,994.6 114.8,976.6 135.8,976.6" fill="#008080" stroke="#005555" stroke-width="1" stroke-linejoin="miter"/>
<polygon points="149.4,1006.61 138.9,988.61 159.9,988.61" fill="#008080" stroke="#005555" stroke-width="1" stroke-linejoin="miter"/>
<polygon points="173.49,1024.23 162.99,1006.23 183.99,1006.23" fill="#008080" stroke="#005555" stroke-width="1" stroke-linejoin="miter"/>
<polygon points="197.59,1024.23 187.09,1006.23 208.09,1006.23" fill="#008080" stroke="#005555" stroke-width="1" stroke-linejoin="miter"/>
<polygon points="221.69,1023.83 211.19,1005.83 232.19,1005.83" fill="#008080" stroke="#005555" stroke-width="1" stroke-linejoin="miter"/>
<polygon points="245.78,1029.04 235.28,1011.04 256.28,1011.04" fill="#008080" stroke="#005555" stroke-width="1" stroke-linejoin="miter"/>
<polygon points="269.88,1035.04 259.38,1017.04 280.38,1017.04" fill="#008080" stroke="#005555" stroke-width="1" stroke-linejoin="miter"/>
<polygon points="293.98,1070.28 283.48,1052.28 304.48,1052.28" fill="#008080" stroke="#005555" stroke-width="1" stroke-linejoin="miter"/>
<polygon points="318.07,1078.29 307.57,1060.29 328.57,1060.29" fill="#008080" stroke="#005555" stroke-width="1" stroke-linejoin="miter"/>
<polygon points="342.17,1121.14 331.67,1103.14 352.67,1103.14" fill="#008080" stroke="#005555" stroke-width="1" stroke-linejoin="miter"/>
<polygon points="390.36,1087.5 379.86,1069.5 400.86,1069.5" fill="#008080" stroke="#005555" stroke-width="1" stroke-linejoin="miter"/>
<polygon points="438.55,1149.97 428.05,1131.97 449.05,1131.97" fill="#008080" stroke="#005555" stroke-width="1" stroke-linejoin="miter"/>
<polygon points="486.75,1151.17 476.25,1133.17 497.25,1133.17" fill="#008080" stroke="#005555" stroke-width="1" stroke-linejoin="miter"/>
<polygon points="534.94,1134.35 524.44,1116.35 545.44,1116.35" fill="#008080" stroke="#005555" stroke-width="1" stroke-linejoin="miter"/>
<polygon points="583.13,1143.56 572.63,1125.56 593.63,1125.56" fill="#008080" stroke="#005555" stroke-width="1" stroke-linejoin="miter"/>
<polygon points="631.33,1155.17 620.83,1137.17 641.83,1137.17" fill="#008080" stroke="#005555" stroke-width="1" stroke-linejoin="miter"/>
<polygon points="679.52,1171.99 669.02,1153.99 690.02,1153.99" fill="#008080" stroke="#005555" stroke-width="1" stroke-linejoin="miter"/>
<polygon points="727.71,1173.59 717.21,1155.59 738.21,1155.59" fill="#008080" stroke="#005555" stroke-width="1" stroke-linejoin="miter"/>
<polygon points="775.9,1178 765.4,1160 786.4,1160" fill="#008080" stroke="#005555" stroke-width="1" stroke-linejoin="miter"/>
</g>
<text transform="translate(180.4,1220.8) rotate(-90)" class="dk">Dark</text>
<line x1="197.59" y1="704.5" x2="197.59" y2="1265.1" stroke="#000" stroke-width="3.0"/>
<rect x="125.3" y="704.5" width="674.7" height="560.6" fill="none" stroke="#000" stroke-width="3.0"/>
<path d="M113.3 1265.1H125.3M117.8 1225.06H125.3M113.3 1185.01H125.3M117.8 1144.97H125.3M113.3 1104.93H125.3M117.8 1064.89H125.3M113.3 1024.84H125.3M117.8 984.8H125.3M113.3 944.76H125.3M117.8 904.71H125.3M113.3 864.67H125.3M117.8 824.63H125.3M113.3 784.59H125.3M117.8 744.54H125.3M113.3 704.5H125.3M137.35 1265.1V1273.1M197.59 1265.1V1278.6M257.83 1265.1V1273.1M318.07 1265.1V1278.6M378.31 1265.1V1273.1M438.55 1265.1V1278.6M498.79 1265.1V1273.1M559.04 1265.1V1278.6M619.28 1265.1V1273.1M679.52 1265.1V1278.6M739.76 1265.1V1273.1M800 1265.1V1278.6" stroke="#000" stroke-width="3.0" fill="none"/>
<text x="104.8" y="1272.6" class="tl" text-anchor="end">0.0</text>
<text x="104.8" y="1192.51" class="tl" text-anchor="end">0.2</text>
<text x="104.8" y="1112.43" class="tl" text-anchor="end">0.4</text>
<text x="104.8" y="1032.34" class="tl" text-anchor="end">0.6</text>
<text x="104.8" y="952.26" class="tl" text-anchor="end">0.8</text>
<text x="104.8" y="872.17" class="tl" text-anchor="end">1.0</text>
<text x="104.8" y="792.09" class="tl" text-anchor="end">1.2</text>
<text x="104.8" y="712" class="tl" text-anchor="end">1.4</text>
<text x="197.59" y="1307.3" class="tl" text-anchor="middle">0</text>
<text x="318.07" y="1307.3" class="tl" text-anchor="middle">50</text>
<text x="438.55" y="1307.3" class="tl" text-anchor="middle">100</text>
<text x="559.04" y="1307.3" class="tl" text-anchor="middle">150</text>
<text x="679.52" y="1307.3" class="tl" text-anchor="middle">200</text>
<text x="800" y="1307.3" class="tl" text-anchor="middle">250</text>
<rect x="126.8" y="706" width="72.29" height="557.6" fill="#ffff00" fill-opacity="0.27"/>
<text transform="translate(253.4,1238.7) rotate(-90)" class="uv" textLength="140.5" lengthAdjust="spacing">UV light</text>
<text x="274.2" y="1366.9" class="xt" textLength="434.5" lengthAdjust="spacing">Irradiation Time (min)</text>
<text transform="translate(37.1,1047.5) rotate(-90)" class="yt">C/C<tspan class="ys" dy="10.5">0</tspan></text>
<text x="755" y="765.5" class="pl" text-anchor="middle">(c)</text>
<line x1="326.5" y1="726.2" x2="382.5" y2="726.2" stroke="#000000" stroke-width="3.0"/>
<rect x="345.75" y="717.45" width="17.5" height="17.5" fill="#000000"/>
<text x="387" y="733.46" class="lg" font-size="22" textLength="106.3" lengthAdjust="spacing">No catalyst</text>
<line x1="326.5" y1="757.5" x2="382.5" y2="757.5" stroke="#b40000" stroke-width="3.0"/>
<circle cx="354.5" cy="757.5" r="8.25" fill="#ff0000" stroke="#9a0000" stroke-width="1"/>
<text x="387" y="764.76" class="lg" font-size="22" textLength="79.8" lengthAdjust="spacing">3D-TiO<tspan dy="8" font-size="13">2</tspan></text>
<line x1="326.5" y1="794.8" x2="382.5" y2="794.8" stroke="#000088" stroke-width="3.0"/>
<polygon points="354.5,785.8 344,803.8 365,803.8" fill="#0000ff" stroke="#000080" stroke-width="1" stroke-linejoin="miter"/>
<text x="387" y="802.06" class="lg" font-size="22" textLength="174.2" lengthAdjust="spacing">Magnetic 3D-TiO<tspan dy="8" font-size="13">2</tspan></text>
<line x1="326.5" y1="831.7" x2="382.5" y2="831.7" stroke="#006666" stroke-width="3.0"/>
<polygon points="354.5,840.7 344,822.7 365,822.7" fill="#008080" stroke="#005555" stroke-width="1" stroke-linejoin="miter"/>
<text x="387" y="838.96" class="lg" font-size="22" textLength="258.3" lengthAdjust="spacing">Magnetic 3D-TiO<tspan dy="8" font-size="13">2</tspan><tspan dy="-8">@HPGA</tspan></text>
<clipPath id="clip_d"><rect x="947.1" y="708.6" width="674.4" height="554.6"/></clipPath>
<g clip-path="url(#clip_d)">
<polyline points="947.1,867.06 971.19,867.06 995.27,867.06 1019.36,867.06 1043.44,867.45 1067.53,871.41 1091.61,872.6 1115.7,883.7 1139.79,883.7 1163.87,892.01 1212.04,892.01 1260.21,895.18 1308.39,895.18 1356.56,897.56 1404.73,900.73 1452.9,900.73 1501.07,900.73 1549.24,900.73 1597.41,902.31" fill="none" stroke="#000000" stroke-width="3.0" stroke-linejoin="round"/>
<rect x="938.35" y="858.31" width="17.5" height="17.5" fill="#000000"/>
<rect x="962.44" y="858.31" width="17.5" height="17.5" fill="#000000"/>
<rect x="986.52" y="858.31" width="17.5" height="17.5" fill="#000000"/>
<rect x="1010.61" y="858.31" width="17.5" height="17.5" fill="#000000"/>
<rect x="1034.69" y="858.7" width="17.5" height="17.5" fill="#000000"/>
<rect x="1058.78" y="862.66" width="17.5" height="17.5" fill="#000000"/>
<rect x="1082.86" y="863.85" width="17.5" height="17.5" fill="#000000"/>
<rect x="1106.95" y="874.95" width="17.5" height="17.5" fill="#000000"/>
<rect x="1131.04" y="874.95" width="17.5" height="17.5" fill="#000000"/>
<rect x="1155.12" y="883.26" width="17.5" height="17.5" fill="#000000"/>
<rect x="1203.29" y="883.26" width="17.5" height="17.5" fill="#000000"/>
<rect x="1251.46" y="886.43" width="17.5" height="17.5" fill="#000000"/>
<rect x="1299.64" y="886.43" width="17.5" height="17.5" fill="#000000"/>
<rect x="1347.81" y="888.81" width="17.5" height="17.5" fill="#000000"/>
<rect x="1395.98" y="891.98" width="17.5" height="17.5" fill="#000000"/>
<rect x="1444.15" y="891.98" width="17.5" height="17.5" fill="#000000"/>
<rect x="1492.32" y="891.98" width="17.5" height="17.5" fill="#000000"/>
<rect x="1540.49" y="891.98" width="17.5" height="17.5" fill="#000000"/>
<rect x="1588.66" y="893.56" width="17.5" height="17.5" fill="#000000"/>
<polyline points="947.1,909.84 971.19,927.27 995.27,953.42 1019.36,953.42 1043.44,988.67 1067.53,1004.12 1091.61,993.03 1115.7,1014.03 1139.79,1017.99 1163.87,1025.91 1212.04,1028.29 1260.21,1029.08 1308.39,1029.87 1356.56,1032.25 1404.73,1034.63 1452.9,1045.72 1501.07,1048.09 1549.24,1057.21 1597.41,1057.21" fill="none" stroke="#b40000" stroke-width="3.0" stroke-linejoin="round"/>
<circle cx="947.1" cy="909.84" r="8.25" fill="#ff0000" stroke="#9a0000" stroke-width="1"/>
<circle cx="971.19" cy="927.27" r="8.25" fill="#ff0000" stroke="#9a0000" stroke-width="1"/>
<circle cx="995.27" cy="953.42" r="8.25" fill="#ff0000" stroke="#9a0000" stroke-width="1"/>
<circle cx="1019.36" cy="953.42" r="8.25" fill="#ff0000" stroke="#9a0000" stroke-width="1"/>
<circle cx="1043.44" cy="988.67" r="8.25" fill="#ff0000" stroke="#9a0000" stroke-width="1"/>
<circle cx="1067.53" cy="1004.12" r="8.25" fill="#ff0000" stroke="#9a0000" stroke-width="1"/>
<circle cx="1091.61" cy="993.03" r="8.25" fill="#ff0000" stroke="#9a0000" stroke-width="1"/>
<circle cx="1115.7" cy="1014.03" r="8.25" fill="#ff0000" stroke="#9a0000" stroke-width="1"/>
<circle cx="1139.79" cy="1017.99" r="8.25" fill="#ff0000" stroke="#9a0000" stroke-width="1"/>
<circle cx="1163.87" cy="1025.91" r="8.25" fill="#ff0000" stroke="#9a0000" stroke-width="1"/>
<circle cx="1212.04" cy="1028.29" r="8.25" fill="#ff0000" stroke="#9a0000" stroke-width="1"/>
<circle cx="1260.21" cy="1029.08" r="8.25" fill="#ff0000" stroke="#9a0000" stroke-width="1"/>
<circle cx="1308.39" cy="1029.87" r="8.25" fill="#ff0000" stroke="#9a0000" stroke-width="1"/>
<circle cx="1356.56" cy="1032.25" r="8.25" fill="#ff0000" stroke="#9a0000" stroke-width="1"/>
<circle cx="1404.73" cy="1034.63" r="8.25" fill="#ff0000" stroke="#9a0000" stroke-width="1"/>
<circle cx="1452.9" cy="1045.72" r="8.25" fill="#ff0000" stroke="#9a0000" stroke-width="1"/>
<circle cx="1501.07" cy="1048.09" r="8.25" fill="#ff0000" stroke="#9a0000" stroke-width="1"/>
<circle cx="1549.24" cy="1057.21" r="8.25" fill="#ff0000" stroke="#9a0000" stroke-width="1"/>
<circle cx="1597.41" cy="1057.21" r="8.25" fill="#ff0000" stroke="#9a0000" stroke-width="1"/>
<polyline points="947.1,957.38 971.19,970.45 995.27,975.8 1019.36,977.58 1043.44,994.62 1067.53,1012.05 1091.61,1016.01 1115.7,1030.27 1139.79,1052.45 1163.87,1053.64 1212.04,1053.64 1260.21,1057.21 1308.39,1058 1356.56,1069.88 1404.73,1091.67 1452.9,1107.12 1501.07,1117.02 1549.24,1135.25 1597.41,1141.98" fill="none" stroke="#000088" stroke-width="3.0" stroke-linejoin="round"/>
<polygon points="947.1,948.38 936.6,966.38 957.6,966.38" fill="#0000ff" stroke="#000080" stroke-width="1" stroke-linejoin="miter"/>
<polygon points="971.19,961.45 960.69,979.45 981.69,979.45" fill="#0000ff" stroke="#000080" stroke-width="1" stroke-linejoin="miter"/>
<polygon points="995.27,966.8 984.77,984.8 1005.77,984.8" fill="#0000ff" stroke="#000080" stroke-width="1" stroke-linejoin="miter"/>
<polygon points="1019.36,968.58 1008.86,986.58 1029.86,986.58" fill="#0000ff" stroke="#000080" stroke-width="1" stroke-linejoin="miter"/>
<polygon points="1043.44,985.62 1032.94,1003.62 1053.94,1003.62" fill="#0000ff" stroke="#000080" stroke-width="1" stroke-linejoin="miter"/>
<polygon points="1067.53,1003.05 1057.03,1021.05 1078.03,1021.05" fill="#0000ff" stroke="#000080" stroke-width="1" stroke-linejoin="miter"/>
<polygon points="1091.61,1007.01 1081.11,1025.01 1102.11,1025.01" fill="#0000ff" stroke="#000080" stroke-width="1" stroke-linejoin="miter"/>
<polygon points="1115.7,1021.27 1105.2,1039.27 1126.2,1039.27" fill="#0000ff" stroke="#000080" stroke-width="1" stroke-linejoin="miter"/>
<polygon points="1139.79,1043.45 1129.29,1061.45 1150.29,1061.45" fill="#0000ff" stroke="#000080" stroke-width="1" stroke-linejoin="miter"/>
<polygon points="1163.87,1044.64 1153.37,1062.64 1174.37,1062.64" fill="#0000ff" stroke="#000080" stroke-width="1" stroke-linejoin="miter"/>
<polygon points="1212.04,1044.64 1201.54,1062.64 1222.54,1062.64" fill="#0000ff" stroke="#000080" stroke-width="1" stroke-linejoin="miter"/>
<polygon points="1260.21,1048.21 1249.71,1066.21 1270.71,1066.21" fill="#0000ff" stroke="#000080" stroke-width="1" stroke-linejoin="miter"/>
<polygon points="1308.39,1049 1297.89,1067 1318.89,1067" fill="#0000ff" stroke="#000080" stroke-width="1" stroke-linejoin="miter"/>
<polygon points="1356.56,1060.88 1346.06,1078.88 1367.06,1078.88" fill="#0000ff" stroke="#000080" stroke-width="1" stroke-linejoin="miter"/>
<polygon points="1404.73,1082.67 1394.23,1100.67 1415.23,1100.67" fill="#0000ff" stroke="#000080" stroke-width="1" stroke-linejoin="miter"/>
<polygon points="1452.9,1098.12 1442.4,1116.12 1463.4,1116.12" fill="#0000ff" stroke="#000080" stroke-width="1" stroke-linejoin="miter"/>
<polygon points="1501.07,1108.02 1490.57,1126.02 1511.57,1126.02" fill="#0000ff" stroke="#000080" stroke-width="1" stroke-linejoin="miter"/>
<polygon points="1549.24,1126.25 1538.74,1144.25 1559.74,1144.25" fill="#0000ff" stroke="#000080" stroke-width="1" stroke-linejoin="miter"/>
<polygon points="1597.41,1132.98 1586.91,1150.98 1607.91,1150.98" fill="#0000ff" stroke="#000080" stroke-width="1" stroke-linejoin="miter"/>
<polyline points="947.1,972.83 971.19,999.77 995.27,1007.09 1019.36,1008.48 1043.44,1014.82 1067.53,1035.81 1091.61,1043.34 1115.7,1071.86 1139.79,1078.6 1163.87,1082.56 1212.04,1087.71 1260.21,1101.18 1308.39,1119.8 1356.56,1123.36 1404.73,1126.53 1452.9,1149.11 1501.07,1154.66 1549.24,1174.07 1597.41,1221.61" fill="none" stroke="#006666" stroke-width="3.0" stroke-linejoin="round"/>
<polygon points="947.1,981.83 936.6,963.83 957.6,963.83" fill="#008080" stroke="#005555" stroke-width="1" stroke-linejoin="miter"/>
<polygon points="971.19,1008.77 960.69,990.77 981.69,990.77" fill="#008080" stroke="#005555" stroke-width="1" stroke-linejoin="miter"/>
<polygon points="995.27,1016.09 984.77,998.09 1005.77,998.09" fill="#008080" stroke="#005555" stroke-width="1" stroke-linejoin="miter"/>
<polygon points="1019.36,1017.48 1008.86,999.48 1029.86,999.48" fill="#008080" stroke="#005555" stroke-width="1" stroke-linejoin="miter"/>
<polygon points="1043.44,1023.82 1032.94,1005.82 1053.94,1005.82" fill="#008080" stroke="#005555" stroke-width="1" stroke-linejoin="miter"/>
<polygon points="1067.53,1044.81 1057.03,1026.81 1078.03,1026.81" fill="#008080" stroke="#005555" stroke-width="1" stroke-linejoin="miter"/>
<polygon points="1091.61,1052.34 1081.11,1034.34 1102.11,1034.34" fill="#008080" stroke="#005555" stroke-width="1" stroke-linejoin="miter"/>
<polygon points="1115.7,1080.86 1105.2,1062.86 1126.2,1062.86" fill="#008080" stroke="#005555" stroke-width="1" stroke-linejoin="miter"/>
<polygon points="1139.79,1087.6 1129.29,1069.6 1150.29,1069.6" fill="#008080" stroke="#005555" stroke-width="1" stroke-linejoin="miter"/>
<polygon points="1163.87,1091.56 1153.37,1073.56 1174.37,1073.56" fill="#008080" stroke="#005555" stroke-width="1" stroke-linejoin="miter"/>
<polygon points="1212.04,1096.71 1201.54,1078.71 1222.54,1078.71" fill="#008080" stroke="#005555" stroke-width="1" stroke-linejoin="miter"/>
<polygon points="1260.21,1110.18 1249.71,1092.18 1270.71,1092.18" fill="#008080" stroke="#005555" stroke-width="1" stroke-linejoin="miter"/>
<polygon points="1308.39,1128.8 1297.89,1110.8 1318.89,1110.8" fill="#008080" stroke="#005555" stroke-width="1" stroke-linejoin="miter"/>
<polygon points="1356.56,1132.36 1346.06,1114.36 1367.06,1114.36" fill="#008080" stroke="#005555" stroke-width="1" stroke-linejoin="miter"/>
<polygon points="1404.73,1135.53 1394.23,1117.53 1415.23,1117.53" fill="#008080" stroke="#005555" stroke-width="1" stroke-linejoin="miter"/>
<polygon points="1452.9,1158.11 1442.4,1140.11 1463.4,1140.11" fill="#008080" stroke="#005555" stroke-width="1" stroke-linejoin="miter"/>
<polygon points="1501.07,1163.66 1490.57,1145.66 1511.57,1145.66" fill="#008080" stroke="#005555" stroke-width="1" stroke-linejoin="miter"/>
<polygon points="1549.24,1183.07 1538.74,1165.07 1559.74,1165.07" fill="#008080" stroke="#005555" stroke-width="1" stroke-linejoin="miter"/>
<polygon points="1597.41,1230.61 1586.91,1212.61 1607.91,1212.61" fill="#008080" stroke="#005555" stroke-width="1" stroke-linejoin="miter"/>
</g>
<text transform="translate(1003,1203.2) rotate(-90)" class="dk">Dark</text>
<line x1="1019.36" y1="708.6" x2="1019.36" y2="1263.2" stroke="#000" stroke-width="3.0"/>
<rect x="947.1" y="708.6" width="674.4" height="554.6" fill="none" stroke="#000" stroke-width="3.0"/>
<path d="M935.1 1263.2H947.1M939.6 1223.59H947.1M935.1 1183.97H947.1M939.6 1144.36H947.1M935.1 1104.74H947.1M939.6 1065.13H947.1M935.1 1025.51H947.1M939.6 985.9H947.1M935.1 946.29H947.1M939.6 906.67H947.1M935.1 867.06H947.1M939.6 827.44H947.1M935.1 787.83H947.1M939.6 748.21H947.1M935.1 708.6H947.1M959.14 1263.2V1271.2M1019.36 1263.2V1276.7M1079.57 1263.2V1271.2M1139.79 1263.2V1276.7M1200 1263.2V1271.2M1260.21 1263.2V1276.7M1320.43 1263.2V1271.2M1380.64 1263.2V1276.7M1440.86 1263.2V1271.2M1501.07 1263.2V1276.7M1561.29 1263.2V1271.2M1621.5 1263.2V1276.7" stroke="#000" stroke-width="3.0" fill="none"/>
<text x="926.6" y="1270.7" class="tl" text-anchor="end">0.0</text>
<text x="926.6" y="1191.47" class="tl" text-anchor="end">0.2</text>
<text x="926.6" y="1112.24" class="tl" text-anchor="end">0.4</text>
<text x="926.6" y="1033.01" class="tl" text-anchor="end">0.6</text>
<text x="926.6" y="953.79" class="tl" text-anchor="end">0.8</text>
<text x="926.6" y="874.56" class="tl" text-anchor="end">1.0</text>
<text x="926.6" y="795.33" class="tl" text-anchor="end">1.2</text>
<text x="926.6" y="716.1" class="tl" text-anchor="end">1.4</text>
<text x="1019.36" y="1305.4" class="tl" text-anchor="middle">0</text>
<text x="1139.79" y="1305.4" class="tl" text-anchor="middle">50</text>
<text x="1260.21" y="1305.4" class="tl" text-anchor="middle">100</text>
<text x="1380.64" y="1305.4" class="tl" text-anchor="middle">150</text>
<text x="1501.07" y="1305.4" class="tl" text-anchor="middle">200</text>
<text x="1621.5" y="1305.4" class="tl" text-anchor="middle">250</text>
<rect x="948.6" y="710.1" width="69.26" height="557.1" fill="#ffff00" fill-opacity="0.27"/>
<text transform="translate(1069.5,1243.9) rotate(-90)" class="uv" textLength="137.2" lengthAdjust="spacing">UV light</text>
<text x="1089.9" y="1366.9" class="xt" textLength="433" lengthAdjust="spacing">Irradiation Time (min)</text>
<text transform="translate(861.2,1051) rotate(-90)" class="yt">C/C<tspan class="ys" dy="10.5">0</tspan></text>
<text x="1572.5" y="766" class="pl" text-anchor="middle">(d)</text>
<line x1="1085.8" y1="726.2" x2="1143.4" y2="726.2" stroke="#000000" stroke-width="3.0"/>
<rect x="1105.85" y="717.45" width="17.5" height="17.5" fill="#000000"/>
<text x="1146.4" y="733.46" class="lg" font-size="22" textLength="109.2" lengthAdjust="spacing">No catalyst</text>
<line x1="1085.8" y1="757.5" x2="1143.4" y2="757.5" stroke="#b40000" stroke-width="3.0"/>
<circle cx="1114.6" cy="757.5" r="8.25" fill="#ff0000" stroke="#9a0000" stroke-width="1"/>
<text x="1146.4" y="764.76" class="lg" font-size="22" textLength="86.2" lengthAdjust="spacing">3D-TiO<tspan dy="8" font-size="20">2</tspan></text>
<line x1="1085.8" y1="797.1" x2="1143.4" y2="797.1" stroke="#000088" stroke-width="3.0"/>
<polygon points="1114.6,788.1 1104.1,806.1 1125.1,806.1" fill="#0000ff" stroke="#000080" stroke-width="1" stroke-linejoin="miter"/>
<text x="1146.4" y="804.36" class="lg" font-size="22" textLength="180.6" lengthAdjust="spacing">Magnetic 3D-TiO<tspan dy="8" font-size="20">2</tspan></text>
<line x1="1085.8" y1="838.1" x2="1143.4" y2="838.1" stroke="#006666" stroke-width="3.0"/>
<polygon points="1114.6,847.1 1104.1,829.1 1125.1,829.1" fill="#008080" stroke="#005555" stroke-width="1" stroke-linejoin="miter"/>
<text x="1146.4" y="845.36" class="lg" font-size="22" textLength="265.8" lengthAdjust="spacing">Magnetic 3D-TiO<tspan dy="8" font-size="20">2</tspan><tspan dy="-8">@HPGA</tspan></text>
</svg>
</body></html>
